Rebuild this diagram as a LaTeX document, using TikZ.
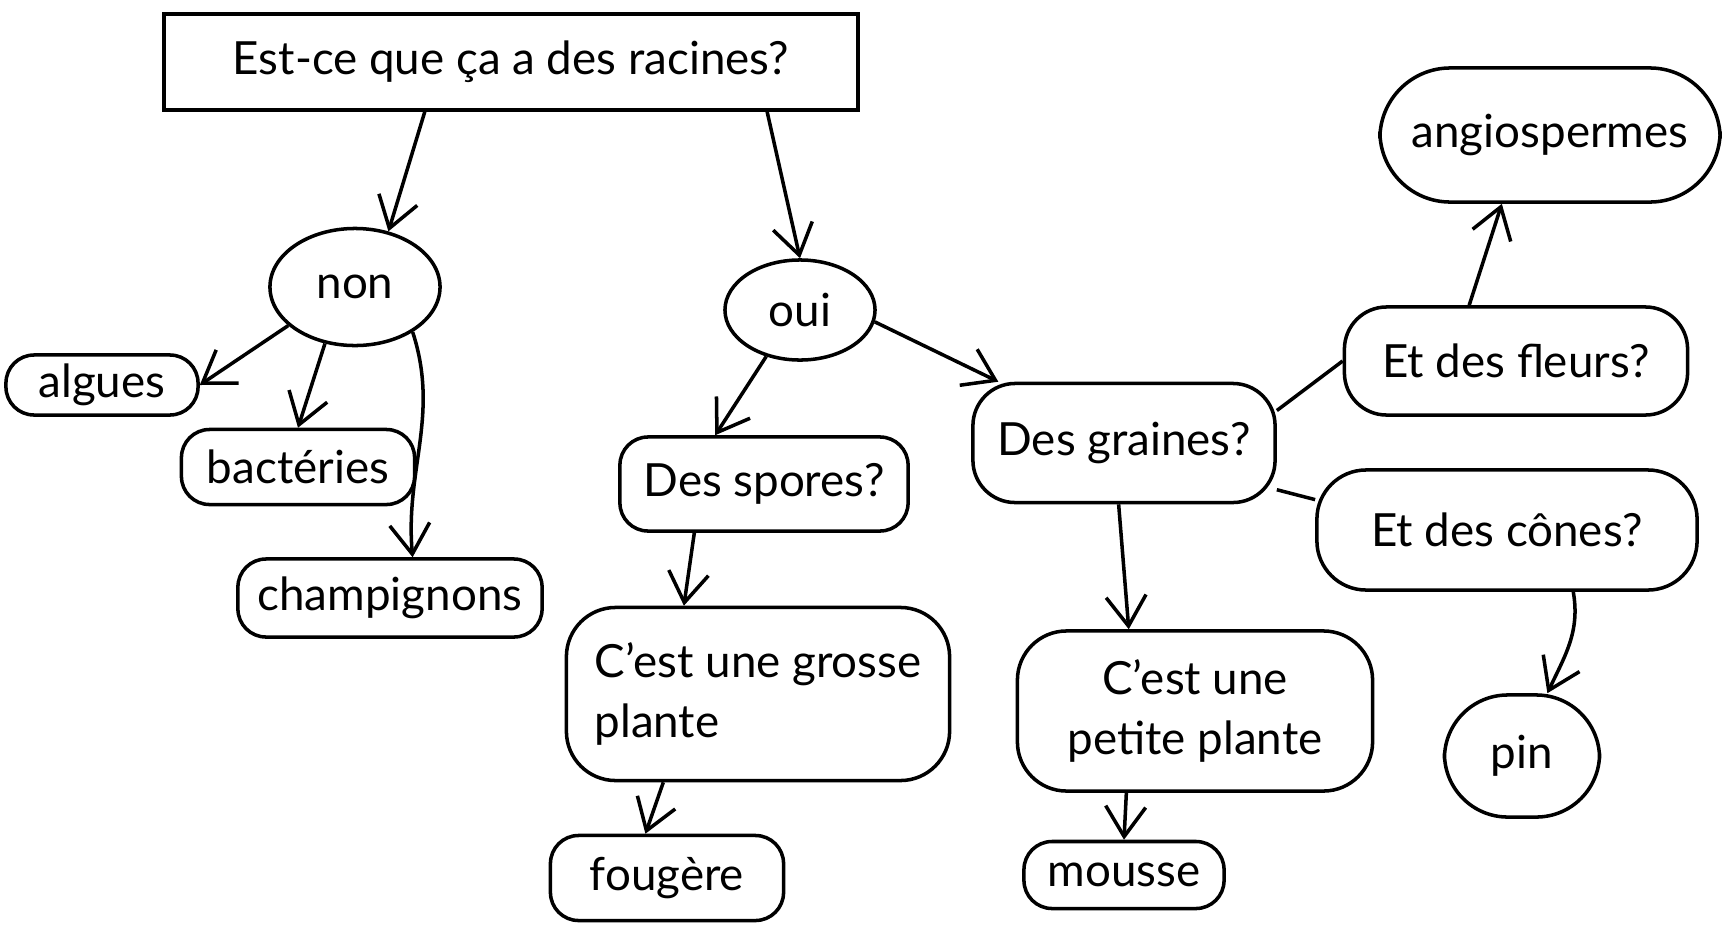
\documentclass[tikz,border=0pt]{standalone}
\usepackage{fontspec}
\setmainfont{Lato}
\usetikzlibrary{shapes.geometric, arrows.meta}
\tikzstyle{every node}=[font=\fontsize{13}{17}\selectfont]
\tikzstyle{box}=[draw,line width=1pt,rounded corners=8pt,inner sep=0pt]
\tikzstyle{blob}=[draw,line width=1pt,ellipse,inner sep=0pt]
\tikzstyle{link}=[line width=1pt,-{Straight Barb[length=3mm,width=4mm]}]

\begin{document}
\begin{tikzpicture}[x=0.01cm,y=-0.01cm]
  \useasboundingbox (0,0) rectangle (1736,927);
  % question de depart
  \node[draw,line width=1pt,minimum width=6.94cm,minimum height=0.96cm] (root) at (511,62) {Est-ce que ça a des racines?};
  \node[blob,minimum width=1.7cm,minimum height=1.17cm] (non) at (355,287) {non};
  \node[blob,minimum width=1.5cm,minimum height=1.0cm] (oui) at (800,310) {oui};
  % sans racines
  \node[box,minimum width=1.92cm,minimum height=0.6cm] (algues) at (102,385) {algues};
  \node[box,minimum width=2.33cm,minimum height=0.75cm] (bacteries) at (298,467) {bactéries};
  \node[box,minimum width=3.04cm,minimum height=0.78cm] (champignons) at (390,598) {champignons};
  % avec racines
  \node[box,minimum width=2.88cm,minimum height=0.94cm] (spores) at (764,484) {Des spores?};
  \node[box,rounded corners=14pt,minimum width=3.83cm,minimum height=1.73cm,align=left] (grosse) at (758,694) {C'est une grosse\\plante};
  \node[box,minimum width=2.33cm,minimum height=0.85cm] (fougere) at (667,878) {fougère};
  \node[box,rounded corners=12pt,minimum width=3.02cm,minimum height=1.19cm] (graines) at (1124,443) {Des graines?};
  \node[box,rounded corners=14pt,minimum width=3.55cm,minimum height=1.6cm,align=center] (petite) at (1195,711) {C'est une\\petite plante};
  \node[box,minimum width=2.0cm,minimum height=0.67cm] (mousse) at (1124,875) {mousse};
  \node[box,rounded corners=12pt,minimum width=3.43cm,minimum height=1.08cm] (fleurs) at (1516,361) {Et des fleurs?};
  \node[box,rounded corners=20pt,minimum width=3.4cm,minimum height=1.34cm] (angio) at (1550,135) {angiospermes};
  \node[box,rounded corners=14pt,minimum width=3.8cm,minimum height=1.2cm] (cones) at (1507,530) {Et des cônes?};
  \node[box,rounded corners=18pt,minimum width=1.55cm,minimum height=1.22cm] (pin) at (1522,756) {pin};

  \draw[link] (root.210) -- (non.59);
  \draw[link] (root.-11) -- (oui.north);
  \draw[link] (non.210) -- (algues.east);
  \draw[link] (non.242) -- (bacteries.north);
  \draw[link] (non.-38) to[out=-72,in=95] (champignons.61);
  \draw[link] (oui.234) -- (spores.135);
  \draw[link] (oui.-9) -- (graines.154);
  \draw[link] (spores.215) -- (grosse.130);
  \draw[link] (grosse.223) -- (fougere.116);
  \draw[link] (graines.265) -- (petite.129);
  \draw[link] (petite.230) -- (mousse.north);
  \draw[line width=1pt] (graines.12) -- (fleurs.west);
  \draw[line width=1pt] (graines.-17) -- (cones.171);
  \draw[link] (fleurs.130) -- (angio.235);
  \draw[link] (cones.-43) to[out=-80,in=65] (pin.68);
\end{tikzpicture}
\end{document}
